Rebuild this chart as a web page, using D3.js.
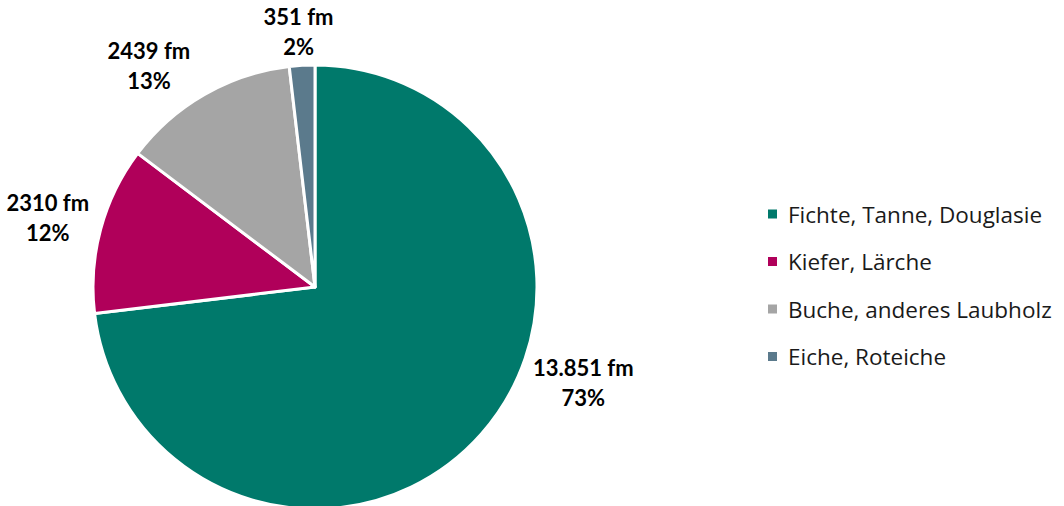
<!DOCTYPE html>
<html><head><meta charset="utf-8">
<script src="https://cdn.jsdelivr.net/npm/d3@7"></script>
<style>body{margin:0;background:#fff}svg{display:block}</style>
</head><body>
<svg id="c" width="1064" height="506"></svg>
<script>
const categories = ["Fichte, Tanne, Douglasie", "Kiefer, Lärche", "Buche, anderes Laubholz", "Eiche, Roteiche"];
const values = [13851, 2310, 2439, 351];
const valueLabels = ["13.851 fm", "2310 fm", "2439 fm", "351 fm"];
const colors = ["#00796B", "#B0005A", "#A5A5A5", "#5B7A8C"];

// layout (label placement angles in degrees from 12 o'clock, radii in px)
const labelAngles = [109.7, 284.5, 323, 356.3];
const labelRadii = [285, 276, 276, 255];

const svg = d3.select("#c");
const cx = 315, cy = 287, R = 222;
const g = svg.append("g").attr("transform", `translate(${cx},${cy})`);
const total = d3.sum(values);
const pie = d3.pie().sort(null).value(d => d)(values);
const arc = d3.arc().innerRadius(0).outerRadius(R);
g.selectAll("path").data(pie).join("path")
  .attr("d", arc).attr("fill", (d, i) => colors[i])
  .attr("stroke", "#fff").attr("stroke-width", 3).attr("stroke-linejoin", "round");

const font = "Lato, 'Open Sans', sans-serif";
pie.forEach((d, i) => {
  const a = labelAngles[i] * Math.PI / 180, r = labelRadii[i];
  const x = Math.sin(a) * r, y = -Math.cos(a) * r;
  const t = g.append("text").attr("text-anchor", "middle")
    .attr("font-family", font).attr("font-weight", "bold").attr("font-size", 22).attr("fill", "#000");
  t.append("tspan").attr("x", x).attr("y", y - 15).attr("dy", "0.35em").text(valueLabels[i]);
  t.append("tspan").attr("x", x).attr("y", y + 15).attr("dy", "0.35em").text(Math.round(values[i] / total * 100) + "%");
});

const lg = svg.append("g").attr("transform", "translate(768,214)");
categories.forEach((c, i) => {
  const row = lg.append("g").attr("transform", `translate(0,${i * 47.5})`);
  row.append("rect").attr("x", 0).attr("y", -4.5).attr("width", 9).attr("height", 9).attr("fill", colors[i]);
  row.append("text").attr("x", 20).attr("y", 1).attr("dy", "0.35em")
    .attr("font-family", "'Open Sans', sans-serif").attr("font-size", 22.5).attr("fill", "#1a1a1a").text(c);
});
</script>
</body></html>
